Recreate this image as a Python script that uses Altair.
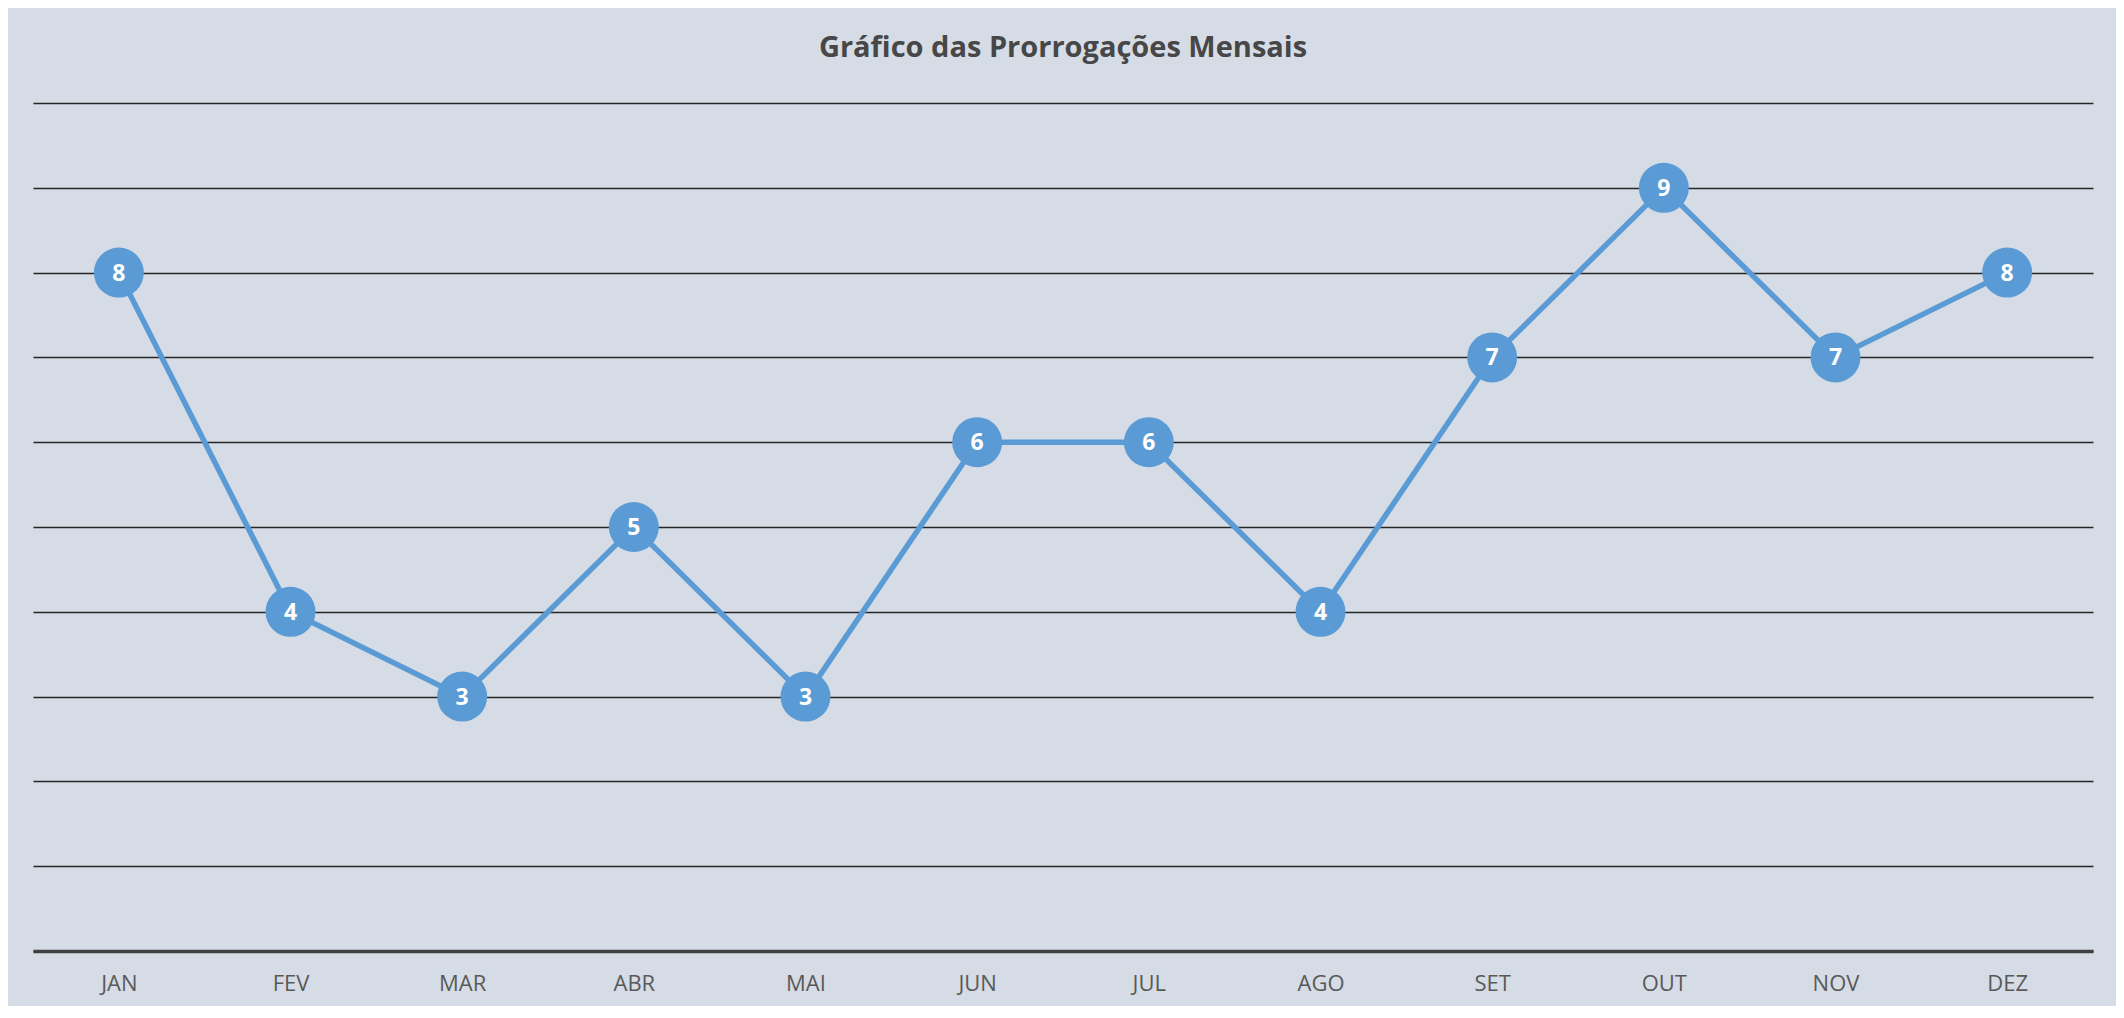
import altair as alt
import pandas as pd

meses = ["JAN", "FEV", "MAR", "ABR", "MAI", "JUN", "JUL", "AGO", "SET", "OUT", "NOV", "DEZ"]
prorrogacoes = [8, 4, 3, 5, 3, 6, 6, 4, 7, 9, 7, 8]

df = pd.DataFrame({"mes": meses, "valor": prorrogacoes})

BLUE = "#5B9BD5"
BG = "#D6DCE5"
FONT = "Open Sans"

x = alt.X(
    "mes:N",
    sort=meses,
    scale=alt.Scale(type="point", padding=0.5),
    axis=alt.Axis(
        title=None,
        labelAngle=0,
        labelFont=FONT,
        labelFontSize=22,
        labelColor="#595959",
        labelPadding=22,
        ticks=False,
        grid=False,
        domain=True,
        domainColor="#404040",
        domainWidth=3.5,
    ),
)
y = alt.Y(
    "valor:Q",
    scale=alt.Scale(domain=[0, 10], nice=False),
    axis=alt.Axis(
        title=None,
        labels=False,
        ticks=False,
        domain=False,
        grid=True,
        gridColor="#262626",
        gridWidth=1.4,
        values=list(range(0, 11)),
    ),
)

base = alt.Chart(df).encode(x=x, y=y)

line = base.mark_line(color=BLUE, strokeWidth=5.5)
pts = base.mark_point(filled=True, shape="circle", size=2500, color=BLUE, opacity=1)
txt = base.mark_text(
    color="white", font=FONT, fontWeight="bold", fontSize=23, baseline="middle", align="center", dy=1
).encode(text="valor:Q")

chart = (
    alt.layer(line, pts, txt)
    .properties(
        width=2060,
        height=848,
        background=BG,
        padding={"left": 25, "top": 95, "right": 23, "bottom": 55},
        autosize=alt.AutoSizeParams(type="none"),
        title=alt.TitleParams(
            "Gráfico das Prorrogações Mensais",
            font=FONT,
            fontSize=29,
            fontWeight="bold",
            color="#474747",
            anchor="middle",
            offset=38,
            baseline="bottom",
            dy=27,
        ),
    )
    .configure_view(stroke=None)
)

chart.save("out.html", embed_options={"renderer": "svg", "actions": False})
